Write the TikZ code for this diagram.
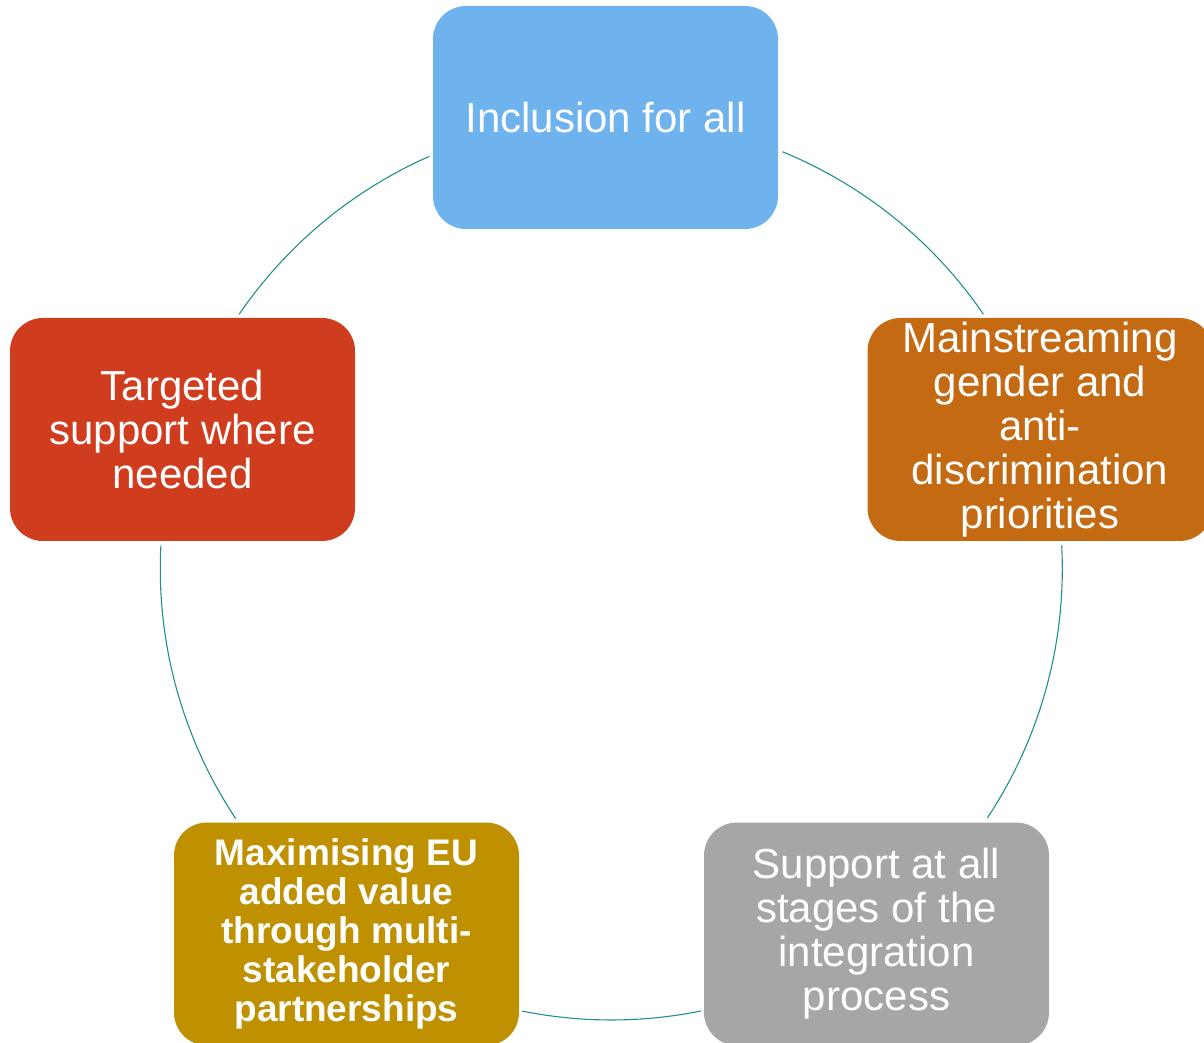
\documentclass[tikz,border=0pt]{standalone}
\usepackage{fontspec}
\setmainfont{Liberation Sans}
\definecolor{cblue}{HTML}{6EB3EE}
\definecolor{corange}{HTML}{C46A13}
\definecolor{cgray}{HTML}{A6A6A6}
\definecolor{cgold}{HTML}{BF9000}
\definecolor{cred}{HTML}{D03C1E}
\definecolor{cteal}{HTML}{238E8E}
\begin{document}
\begin{tikzpicture}[x=1pt,y=1pt,
  box/.style={rounded corners=33pt, minimum width=345pt, minimum height=223pt,
    inner sep=0pt, align=center, text=white, font=\fontsize{42}{44}\selectfont},
  boldbox/.style={box, font=\fontsize{37}{39}\selectfont\bfseries},
  cyc/.style={draw=cteal, line width=1.1pt}]
\useasboundingbox (0,0) rectangle (1204,1042);
\clip (0,0) rectangle (1204,1042);
\coordinate (C) at (611.3,473);
% cycle arcs
\draw[cyc] ([shift={(113.8:451)}]C) coordinate (a1) arc[start angle=113.8, end angle=145.6, radius=451];
\draw[cyc] ([shift={(177.0:451)}]C) coordinate (a2) arc[start angle=177.0, end angle=213.6, radius=451];
\draw[cyc] ([shift={(258.6:451)}]C) coordinate (a3) arc[start angle=258.6, end angle=281.5, radius=451];
\draw[cyc] ([shift={(326.5:451)}]C) coordinate (a4) arc[start angle=326.5, end angle=363.0, radius=451];
\draw[cyc] ([shift={(34.4:451)}]C) coordinate (a5) arc[start angle=34.4, end angle=67.7, radius=451];
% boxes
\node[box, fill=cblue] (incl) at (605.5,924.5) {Inclusion for all};
\node[box, fill=cred] (targ) at (182.5,612.5) {Targeted\\support where\\needed};
\node[box, fill=corange] (main) at (1040,612.5) {Mainstreaming\\gender and\\anti-\\discrimination\\priorities};
\node[boldbox, fill=cgold] (maxi) at (346.5,108) {Maximising EU\\added value\\through multi-\\stakeholder\\partnerships};
\node[box, fill=cgray] (supp) at (876.5,108) {Support at all\\stages of the\\integration\\process};
\end{tikzpicture}
\end{document}
